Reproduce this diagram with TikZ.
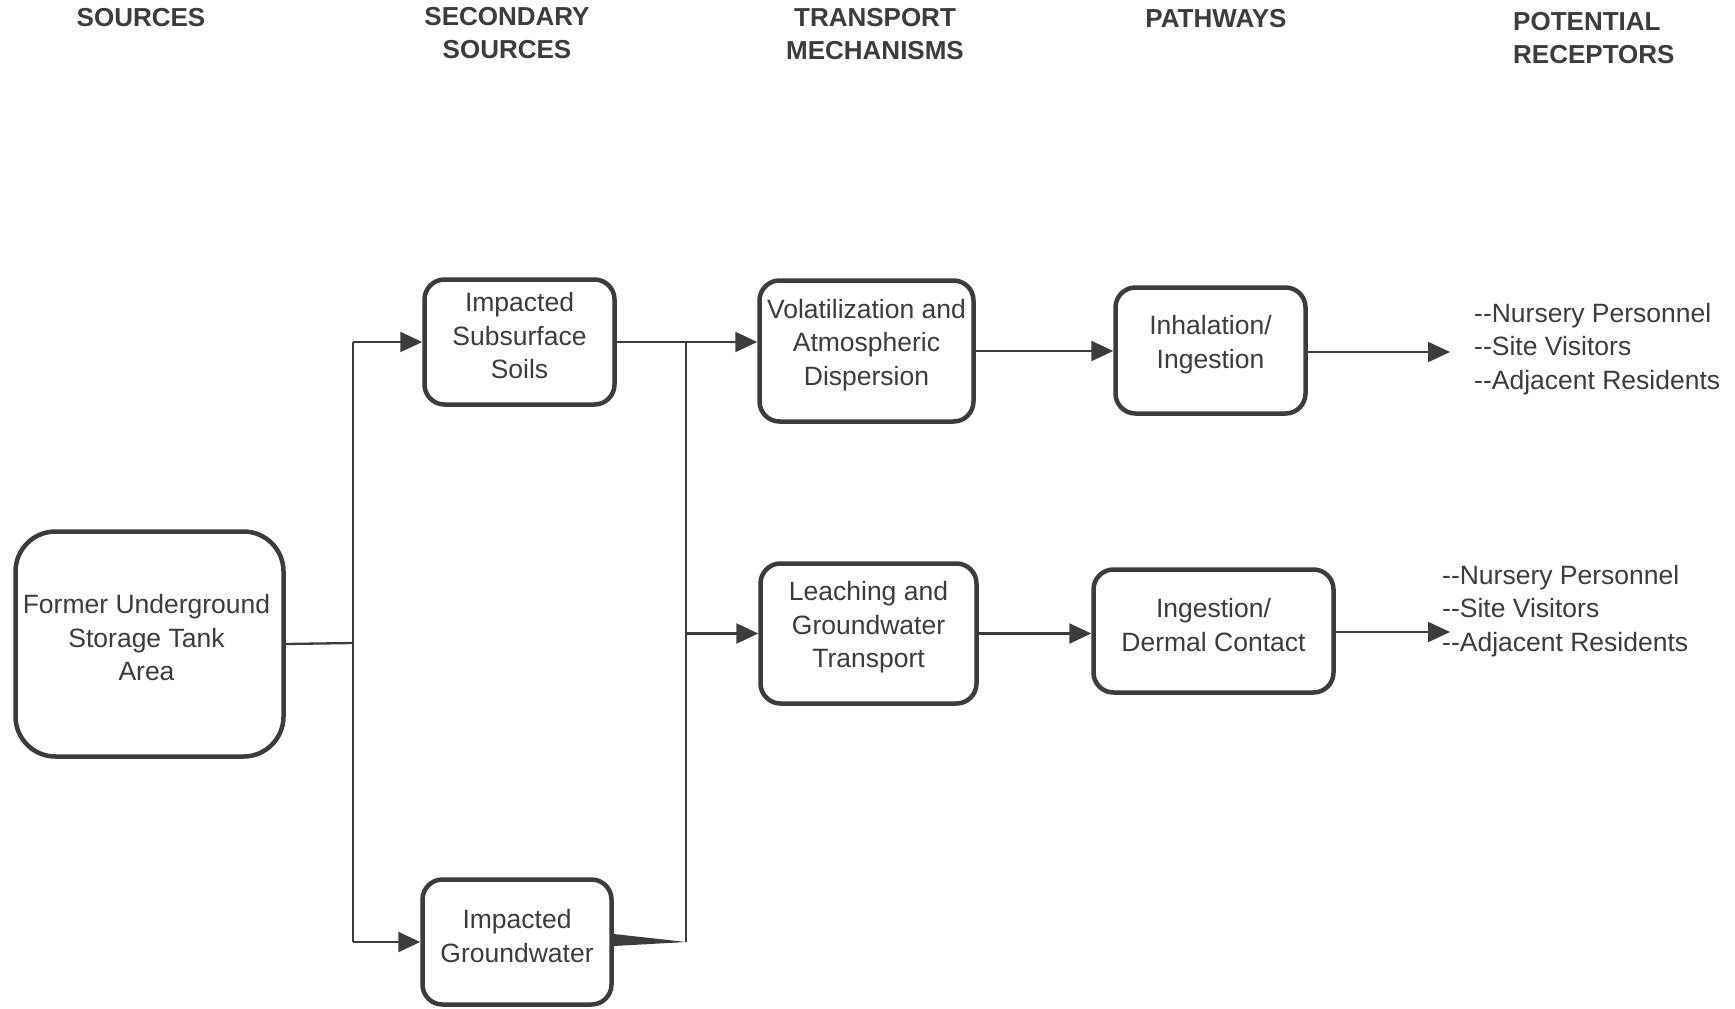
\documentclass[tikz,border=0pt]{standalone}
\usepackage{fontspec}
\setmainfont{Liberation Sans}
\usetikzlibrary{arrows.meta}
\definecolor{ink}{HTML}{3C3C3C}
\newcommand{\dd}{-\kern0pt-}
\begin{document}
\begin{tikzpicture}[x=1pt,y=-1pt,
  box/.style={draw=ink, line width=4.5pt, rounded corners=20pt, inner sep=0pt},
  txt/.style={text=ink, font=\fontsize{26.5}{33.5}\selectfont, align=center, inner sep=0pt},
  rtxt/.style={text=ink, font=\fontsize{26.5}{33.5}\selectfont, align=left, inner sep=0pt, anchor=west},
  hdr/.style={text=ink, font=\fontsize{26}{33}\selectfont\bfseries, align=center, inner sep=0pt},
  conn/.style={draw=ink, line width=2.3pt},
  arr/.style={conn, -{Triangle[length=22pt,width=20pt]}},
]
\useasboundingbox (0,0) rectangle (1735,1009);
\fill[white] (0,0) rectangle (1735,1009);

% headers
\node[hdr] (h1) at (141,18) {SOURCES};
\node[hdr] (h2) at (507,33.5) {SECONDARY\\SOURCES};
\node[hdr] (h3) at (875,34.5) {TRANSPORT\\MECHANISMS};
\node[hdr] (h4) at (1216,19) {PATHWAYS};
\node[hdr, align=left, anchor=west] (h5) at (1513,38) {POTENTIAL\\RECEPTORS};

% boxes
\node[box, minimum width=268pt, minimum height=225pt, rounded corners=40pt] (former) at (149.5,644) {};
\node[box, minimum width=190pt, minimum height=125pt] (soils) at (519.5,342) {};
\node[box, minimum width=189pt, minimum height=125pt] (gw) at (517,942) {};
\node[box, minimum width=214pt, minimum height=141pt] (volat) at (866.5,351) {};
\node[box, minimum width=216pt, minimum height=140pt] (leach) at (868.5,633.5) {};
\node[box, minimum width=190pt, minimum height=126pt] (inhal) at (1210.5,350.5) {};
\node[box, minimum width=240pt, minimum height=123pt] (ingest) at (1213.5,631) {};

% box texts
\node[txt] (former-t) at ([xshift=-3pt,yshift=6pt]former.center) {Former Underground\\Storage Tank\\Area};
\node[txt] (soils-t) at ([yshift=6pt]soils.center) {Impacted\\Subsurface\\Soils};
\node[txt] (gw-t) at ([yshift=6pt]gw.center) {Impacted\\Groundwater};
\node[txt] (volat-t) at ([yshift=6pt]volat.center) {Volatilization and\\Atmospheric\\Dispersion};
\node[txt] (leach-t) at ([yshift=6pt]leach.center) {Leaching and\\Groundwater\\Transport};
\node[txt] (inhal-t) at ([yshift=6pt]inhal.center) {Inhalation/\\Ingestion};
\node[txt] (ingest-t) at ([yshift=6pt]ingest.center) {Ingestion/\\Dermal Contact};

% receptors
\node[rtxt] (rec1) at (1474,349) {\dd Nursery Personnel\\\dd Site Visitors\\\dd Adjacent Residents};
\node[rtxt] (rec2) at (1442,611) {\dd Nursery Personnel\\\dd Site Visitors\\\dd Adjacent Residents};

% junction coordinates
\coordinate (j1) at (353,643);
\coordinate (j1t) at (353,342);
\coordinate (j1b) at (353,942);
\coordinate (j2t) at (686,342);
\coordinate (j2b) at (686,942);
\coordinate (j2m) at (686,633.5);
\coordinate (r1) at (1450,352);
\coordinate (r2) at (1450,632);

% connectors
\draw[conn] (former.east) -- (j1);
\draw[conn] (j1t) -- (j1b);
\draw[arr] (j1t) -- (soils.west);
\draw[arr] (j1b) -- (gw.west);
\draw[arr] (soils.east) -- (soils.east -| volat.west);
\draw[conn] (j2t) -- (j2b);
\fill[ink] ([yshift=8pt]gw.east) -- ([yshift=-4pt]gw.east) -- (j2b) -- cycle;
\draw[arr] (j2m) -- (leach.west);
\draw[arr] (volat.east) -- (volat.east -| inhal.west);
\draw[arr] (leach.east) -- (leach.east -| ingest.west);
\draw[arr] (inhal.east |- r1) -- (r1);
\draw[arr] (ingest.east |- r2) -- (r2);
\end{tikzpicture}
\end{document}
